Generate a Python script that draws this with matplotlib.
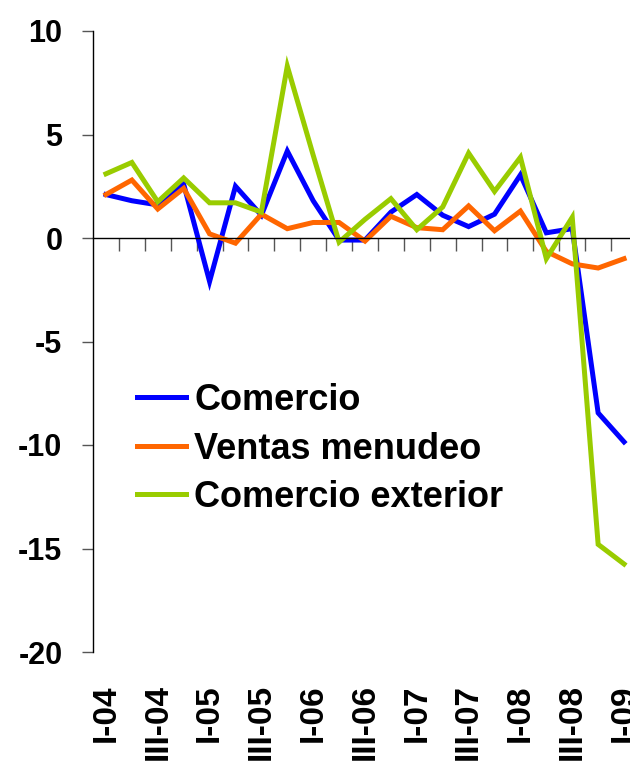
import numpy as np
import matplotlib.pyplot as plt
import matplotlib.transforms as mtransforms

plt.rcParams['font.family'] = ['Liberation Sans', 'DejaVu Sans']
plt.rcParams['font.weight'] = 'bold'
plt.rcParams['axes.unicode_minus'] = False

# trimestres I-04 ... I-09
trimestres = ['I-04', 'II-04', 'III-04', 'IV-04',
              'I-05', 'II-05', 'III-05', 'IV-05',
              'I-06', 'II-06', 'III-06', 'IV-06',
              'I-07', 'II-07', 'III-07', 'IV-07',
              'I-08', 'II-08', 'III-08', 'IV-08',
              'I-09']

comercio = [2.1, 1.8, 1.6, 2.6, -2.1, 2.5, 1.1, 4.2, 1.8, -0.1, -0.1,
            1.25, 2.1, 1.1, 0.55, 1.15, 3.05, 0.25, 0.45, -8.45, -9.85]
ventas_menudeo = [2.1, 2.8, 1.4, 2.4, 0.2, -0.25, 1.15, 0.45, 0.75, 0.75, -0.15,
                  1.05, 0.5, 0.4, 1.55, 0.35, 1.3, -0.65, -1.25, -1.45, -1.0]
comercio_exterior = [3.1, 3.65, 1.75, 2.9, 1.7, 1.7, 1.25, 8.3, 4.0, -0.2, 0.9,
                     1.9, 0.4, 1.5, 4.1, 2.25, 3.9, -1.0, 1.0, -14.8, -15.75]

x = np.arange(len(trimestres))

fig = plt.figure(figsize=(6.3, 7.61), dpi=100)
# area del grafico en pixeles: x 93..637, y 31..652
ax = fig.add_axes([93 / 630, 1 - 652 / 761, 544 / 630, 621 / 761])

ax.plot(x, comercio, color='#0000FF', lw=3.6, label='Comercio', solid_joinstyle='miter')
ax.plot(x, ventas_menudeo, color='#FF6600', lw=3.6, label='Ventas menudeo', solid_joinstyle='miter')
ax.plot(x, comercio_exterior, color='#99CC00', lw=3.6, label='Comercio exterior', solid_joinstyle='miter')

ax.set_xlim(-0.5, len(trimestres) - 0.5)
ax.set_ylim(-20, 10)
ax.set_yticks(np.arange(-20, 11, 5))
ax.tick_params(axis='y', direction='out', length=8, width=1, pad=14,
               labelsize=22, color='#555555')
for lbl in ax.get_yticklabels():
    lbl.set_fontweight('bold')

# eje x sobre el cero, marcas entre categorias
ax.spines['top'].set_visible(False)
ax.spines['right'].set_visible(False)
ax.spines['bottom'].set_position(('data', 0))
ax.spines['left'].set_linewidth(1)
ax.spines['bottom'].set_linewidth(1)
ax.set_xticks(np.arange(0.5, len(trimestres) - 0.5, 1))
ax.tick_params(axis='x', direction='out', length=9, width=1, labelbottom=False,
               color='#555555')

trans = mtransforms.blended_transform_factory(ax.transData, fig.transFigure)
for i in range(0, len(trimestres), 2):
    ax.text(x[i], 1 - 684 / 761, trimestres[i], transform=trans, rotation=90,
            ha='center', va='top', fontsize=24, fontweight='bold')

leg = ax.legend(loc='center left', bbox_to_anchor=(137 / 630, 1 - 449 / 761),
                bbox_transform=fig.transFigure, frameon=False, fontsize=26,
                handlelength=1.36, handletextpad=0.22, labelspacing=0.377,
                borderpad=0, borderaxespad=0)
for t in leg.get_texts():
    t.set_fontweight('bold')

fig.savefig('out.png', dpi=100)
